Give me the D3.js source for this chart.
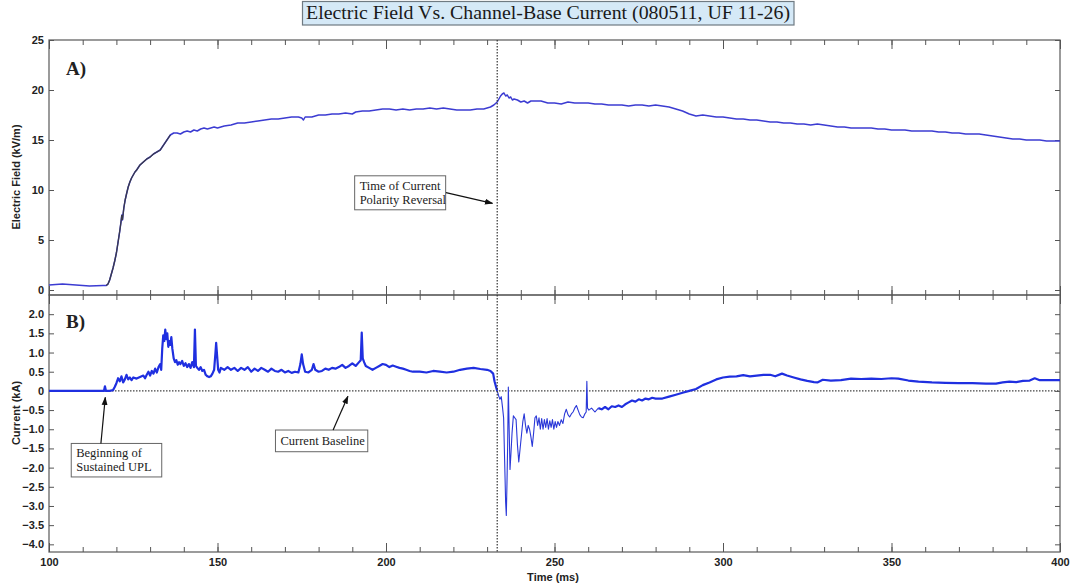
<!DOCTYPE html>
<html>
<head>
<meta charset="utf-8">
<script src="https://cdn.jsdelivr.net/npm/d3@7"></script>
<style>
  html, body { margin: 0; padding: 0; background: #fff; }
  svg { display: block; }
  .tick text { font-family: "Liberation Sans", Arial, sans-serif; font-weight: bold; font-size: 11px; fill: #222; }
  .axis path { display: none; }
  .axis line { stroke: #555; stroke-width: 1; }
  .serif { font-family: "Liberation Serif", "Times New Roman", serif; }
</style>
</head>
<body>
<svg id="chart" width="1071" height="586"></svg>
<script>
// Electric field record, time (ms)
const fieldTime = [100,102,104,106,108,110,112,114,116,117,117.5,118,118.5,119,119.5,120,120.5,121,121.4,121.6,121.8,122.2,122.6,123,123.5,124,124.5,125,125.5,126,127,128,129,130,131,132,133,134,135,136,137,138,139,140,141,142,143,144,145,146,147,148,149,150,152,154,156,158,160,162,164,166,168,170,172,174,175,175.5,176,178,180,182,184,186,188,190,191,193,195,197,199,201,203,205,207,209,211,213,215,217,219,221,223,225,227,229,230,231,232,233,233.5,234,234.5,235,235.5,236,236.5,237,237.5,238,239,240,241,242,243,246,248,250,252,254,256,258,260,262,264,266,268,270,272,274,276,278,280,282,284,286,288,290,292,294,296,298,300,302,304,306,308,310,312,314,316,318,320,322,324,326,328,330,332,334,336,338,340,342,344,346,348,350,352,354,356,358,360,362,364,366,368,370,372,374,376,378,380,382,384,386,388,390,392,394,396,398,400];
// Electric field (kV/m)
const fieldValue = [0.5,0.55,0.6,0.55,0.5,0.45,0.4,0.42,0.45,0.45,0.6,1.0,1.6,2.2,2.9,3.7,4.8,5.9,6.9,7.5,7.0,8.2,9.0,9.6,10.3,10.8,11.2,11.5,11.8,12.0,12.5,12.8,13.1,13.3,13.6,13.8,14.0,14.5,15.0,15.5,15.7,15.7,15.6,15.8,15.9,15.8,16.0,15.9,16.1,16.2,16.1,16.2,16.3,16.2,16.4,16.5,16.7,16.7,16.8,16.9,17.0,17.1,17.1,17.2,17.3,17.3,17.2,17.0,17.3,17.3,17.5,17.5,17.6,17.6,17.7,17.6,17.8,17.9,17.9,18.0,18.1,18.1,18.0,18.1,18.0,18.1,18.1,18.2,18.1,18.2,18.1,18.0,18.0,18.0,18.1,18.1,18.2,18.3,18.5,18.8,19.1,19.4,19.6,19.7,19.4,19.5,19.2,19.3,19.0,19.1,19.0,18.8,18.9,18.7,18.9,18.9,18.7,18.7,18.6,18.8,18.7,18.7,18.7,18.6,18.6,18.5,18.5,18.5,18.4,18.5,18.5,18.4,18.5,18.4,18.3,18.1,17.9,17.6,17.4,17.5,17.4,17.3,17.3,17.2,17.1,17.1,17.0,17.0,16.9,16.8,16.8,16.7,16.7,16.6,16.6,16.5,16.6,16.5,16.4,16.3,16.3,16.2,16.2,16.2,16.2,16.1,16.1,16.0,16.0,16.0,15.9,15.9,15.9,15.9,15.8,15.8,15.7,15.7,15.6,15.6,15.6,15.5,15.4,15.3,15.2,15.1,15.1,15.0,15.0,15.0,14.9,14.9,14.9];

// Channel-base current record, time (ms)
const currentTime = [100,105,110,115,116.3,116.6,116.9,118,119,119.5,120,120.5,121,121.5,122,122.5,123,123.5,124,124.5,125,126,127,128,128.5,129,129.5,130,130.5,131,131.5,132,132.5,133,133.3,133.6,133.9,134.2,134.5,134.8,135.1,135.4,135.7,136,136.3,136.6,137,137.4,137.8,138.2,138.6,139,139.5,140,140.5,141,141.5,142,142.5,143,143.3,143.6,144,144.5,145,145.5,146,146.5,147,147.5,148,148.5,149,149.4,149.6,149.9,150.2,150.6,151,152,153,154,155,156,157,158,159,160,161,162,163,164,165,166,167,168,169,170,171,172,173,174,174.6,175,175.4,176,177,178,178.5,179,180,181,182,183,184,185,186,187,188,189,190,191,192,192.5,192.8,193.1,193.5,194,195,196,197,198,199,200,201,202,203,204,205,206,207,208,210,212,214,216,218,220,222,224,226,228,230,231,231.8,232.2,232.6,233,233.4,233.8,234.2,234.6,234.9,235.2,235.5,235.7,235.9,236.1,236.3,236.5,236.8,237.1,237.4,237.8,238.2,238.6,239,239.4,239.8,240.2,240.6,241,241.4,241.8,242.2,242.6,243,243.4,243.8,244.2,244.6,245,245.4,245.8,246.2,246.6,247,247.4,247.8,248.2,248.6,249,249.4,249.8,250.2,250.6,251,251.5,252,252.5,253,253.5,254,254.5,255,255.5,256,256.5,257,257.5,258,258.5,259,259.4,259.6,259.8,260.2,261,262,263,264,265,266,267,268,269,270,271,272,273,274,275,276,277,278,279,280,282,284,286,288,290,292,294,296,298,300,302,304,306,308,310,312,314,315.5,317.5,319,321,323,325,327,328,329.6,332,335,338,341,344,347,350,352,355,358,362,366,370,374,378,381,383,385,387,389,391,392.5,394,397,400];
// Channel-base current (kA)
const currentValue = [0,0,0,0,0,0.12,0,0,0.02,0.1,0.2,0.33,0.25,0.38,0.22,0.3,0.42,0.3,0.35,0.28,0.35,0.32,0.36,0.4,0.33,0.42,0.5,0.4,0.52,0.45,0.58,0.48,0.62,0.7,0.55,1.1,1.45,1.3,1.6,1.35,1.5,1.15,1.3,1.2,1.4,1.1,0.85,0.75,0.8,0.68,0.75,0.7,0.78,0.65,0.72,0.62,0.7,0.6,0.75,0.62,1.6,0.65,0.6,0.55,0.62,0.52,0.55,0.42,0.38,0.36,0.38,0.45,0.55,1.0,1.25,0.9,0.55,0.48,0.6,0.55,0.62,0.55,0.6,0.52,0.6,0.55,0.62,0.5,0.58,0.52,0.6,0.55,0.5,0.58,0.52,0.5,0.55,0.48,0.52,0.47,0.5,0.48,0.7,0.95,0.7,0.5,0.48,0.55,0.7,0.55,0.5,0.52,0.58,0.55,0.6,0.58,0.62,0.68,0.6,0.65,0.72,0.65,0.75,0.8,1.52,0.85,0.75,0.65,0.6,0.55,0.6,0.65,0.7,0.68,0.62,0.66,0.63,0.6,0.58,0.55,0.52,0.5,0.5,0.48,0.52,0.5,0.48,0.5,0.55,0.58,0.6,0.57,0.55,0.52,0.45,0.25,0.12,0.0,-0.12,-0.22,-0.15,-0.45,-0.7,-1.8,-2.9,-3.25,-2.4,-1.4,0.1,-0.8,-2.05,-1.6,-1.1,-0.65,-0.7,-0.75,-1.4,-1.85,-1.5,-1.15,-0.8,-0.6,-0.9,-1.1,-0.9,-1.0,-1.2,-1.45,-1.1,-0.7,-0.65,-0.9,-0.7,-1.0,-0.72,-1.0,-0.75,-0.95,-0.72,-1.0,-0.78,-0.95,-0.75,-1.0,-0.8,-0.95,-0.8,-0.9,-0.75,-0.85,-0.6,-0.48,-0.62,-0.68,-0.6,-0.55,-0.45,-0.38,-0.5,-0.62,-0.68,-0.7,-0.6,-0.55,0.25,-0.45,-0.5,-0.45,-0.55,-0.45,-0.48,-0.42,-0.48,-0.4,-0.42,-0.38,-0.42,-0.35,-0.3,-0.25,-0.28,-0.22,-0.25,-0.2,-0.22,-0.18,-0.2,-0.2,-0.15,-0.1,-0.05,0.0,0.05,0.15,0.22,0.3,0.35,0.37,0.38,0.41,0.38,0.4,0.42,0.42,0.38,0.45,0.4,0.35,0.3,0.26,0.23,0.22,0.29,0.27,0.28,0.32,0.31,0.32,0.31,0.33,0.32,0.27,0.24,0.22,0.21,0.2,0.2,0.19,0.19,0.22,0.24,0.23,0.26,0.27,0.33,0.28,0.28,0.28];

// Tick values
const timeMajorTicks = [100,150,200,250,300,350,400];
const timeMinorTicks = d3.range(100, 401, 10);
const fieldTicks = [0,5,10,15,20,25];
const currentTicks = [2.0,1.5,1.0,0.5,0,-0.5,-1.0,-1.5,-2.0,-2.5,-3.0,-3.5,-4.0];

// Event markers
const reversalTime = 233;
const upwardLeaderOnset = 116.7;

const titleText = "Electric Field Vs. Channel-Base Current (080511, UF 11-26)";

const svg = d3.select("#chart");

const left = 49, right = 1060;
const topA = 40, bottomA = 295, topB = 295, bottomB = 552;

const x = d3.scaleLinear().domain([100, 400]).range([left, right]);
const yE = d3.scaleLinear().domain([-0.5, 25]).range([bottomA, topA]);
const yI = d3.scaleLinear().domain([-4.2, 2.5]).range([bottomB, topB]);

// Title box
svg.append("rect")
  .attr("x", 302.5).attr("y", 1.5).attr("width", 491.5).attr("height", 23.5)
  .attr("fill", "#d5e9f7").attr("stroke", "#6f7a82").attr("stroke-width", 1.2);
svg.append("text").attr("class", "serif")
  .attr("x", 548).attr("y", 19).attr("text-anchor", "middle")
  .attr("font-size", 19).attr("fill", "#1a1a1a")
  .attr("textLength", 484).attr("lengthAdjust", "spacingAndGlyphs")
  .text(titleText);

// Panel frames
[[topA, bottomA], [topB, bottomB]].forEach(([t, b]) => {
  svg.append("rect").attr("x", left).attr("y", t).attr("width", right - left).attr("height", b - t)
    .attr("fill", "none").attr("stroke", "#666").attr("stroke-width", 1.3);
});

// Time ticks on every panel edge, pointing inward
function timeTicks(y, dir) {
  const make = () => dir > 0 ? d3.axisBottom(x) : d3.axisTop(x);
  svg.append("g").attr("class", "axis").attr("transform", `translate(0,${y})`)
    .call(make().tickValues(timeMinorTicks).tickSize(-5).tickFormat(""));
  svg.append("g").attr("class", "axis").attr("transform", `translate(0,${y})`)
    .call(make().tickValues(timeMajorTicks).tickSize(-9).tickFormat(""));
}
timeTicks(topA, -1);
timeTicks(bottomA, 1);
timeTicks(topB, -1);
timeTicks(bottomB, 1);

// Time labels
svg.append("g").attr("class", "axis").attr("transform", `translate(0,${bottomB})`)
  .call(d3.axisBottom(x).tickValues(timeMajorTicks).tickSize(0).tickPadding(6).tickFormat(d3.format("d")));

// Field axis
svg.append("g").attr("class", "axis").attr("transform", `translate(${left},0)`)
  .call(d3.axisLeft(yE).tickValues(fieldTicks).tickSizeInner(-5).tickSizeOuter(0).tickPadding(5).tickFormat(d3.format("d")));
svg.append("g").attr("class", "axis").attr("transform", `translate(${right},0)`)
  .call(d3.axisRight(yE).tickValues(fieldTicks).tickSizeInner(-5).tickSizeOuter(0).tickFormat(""));

// Current axis
const curFmt = d => d === 0 ? "0" : d3.format(".1f")(d);
svg.append("g").attr("class", "axis").attr("transform", `translate(${left},0)`)
  .call(d3.axisLeft(yI).tickValues(currentTicks).tickSizeInner(-5).tickSizeOuter(0).tickPadding(5).tickFormat(curFmt));
svg.append("g").attr("class", "axis").attr("transform", `translate(${right},0)`)
  .call(d3.axisRight(yI).tickValues(currentTicks).tickSizeInner(-5).tickSizeOuter(0).tickFormat(""));

// Axis titles
const sansBold = "'Liberation Sans', Arial, sans-serif";
svg.append("text").attr("transform", "translate(20,177) rotate(-90)")
  .attr("text-anchor", "middle").attr("font-family", sansBold).attr("font-weight", "bold")
  .attr("font-size", 11).attr("fill", "#222").text("Electric Field (kV/m)");
svg.append("text").attr("transform", "translate(20,413) rotate(-90)")
  .attr("text-anchor", "middle").attr("font-family", sansBold).attr("font-weight", "bold")
  .attr("font-size", 11).attr("fill", "#222").text("Current (kA)");
svg.append("text").attr("x", 553).attr("y", 581)
  .attr("text-anchor", "middle").attr("font-family", sansBold).attr("font-weight", "bold")
  .attr("font-size", 11).attr("fill", "#222").text("Time (ms)");

// Panel tags
svg.append("text").attr("class", "serif").attr("x", 66).attr("y", 75)
  .attr("font-size", 19).attr("font-weight", "bold").attr("fill", "#222").text("A)");
svg.append("text").attr("class", "serif").attr("x", 66).attr("y", 328)
  .attr("font-size", 19).attr("font-weight", "bold").attr("fill", "#222").text("B)");

// Zero-current baseline
svg.append("line")
  .attr("x1", x(100)).attr("x2", x(400)).attr("y1", yI(0)).attr("y2", yI(0))
  .attr("stroke", "#444").attr("stroke-width", 1.1).attr("stroke-dasharray", "1.5,1.5");

// Field trace (the steep rise is drawn in a dark tone)
const field = fieldTime.map((t, i) => ({ t, v: fieldValue[i] }));
const lineE = d3.line().x(d => x(d.t)).y(d => yE(d.v));
svg.append("path").datum(field).attr("d", lineE)
  .attr("fill", "none").attr("stroke", "#3c3cd2").attr("stroke-width", 1.5).attr("stroke-linejoin", "round");
svg.append("path").datum(field.filter(d => d.t >= 117 && d.t <= 136))
  .attr("d", lineE).attr("fill", "none").attr("stroke", "#3a3a4a").attr("stroke-width", 1.3);

// Current trace: smooth parts thick, oscillatory part thin
const current = currentTime.map((t, i) => ({ t, v: currentValue[i] }));
const lineI = d3.line().x(d => x(d.t)).y(d => yI(d.v));
svg.append("path").datum(current.filter(d => d.t <= 233))
  .attr("d", lineI).attr("fill", "none").attr("stroke", "#1f2fe0").attr("stroke-width", 2.2).attr("stroke-linejoin", "round");
svg.append("path").datum(current.filter(d => d.t >= 233 && d.t <= 263))
  .attr("d", lineI).attr("fill", "none").attr("stroke", "#2a38d8").attr("stroke-width", 1.1).attr("stroke-linejoin", "round");
svg.append("path").datum(current.filter(d => d.t >= 263))
  .attr("d", lineI).attr("fill", "none").attr("stroke", "#1f2fe0").attr("stroke-width", 2.2).attr("stroke-linejoin", "round");

// Polarity reversal marker across both panels
svg.append("line")
  .attr("x1", x(reversalTime)).attr("x2", x(reversalTime)).attr("y1", topA).attr("y2", bottomB)
  .attr("stroke", "#333").attr("stroke-width", 1.2).attr("stroke-dasharray", "1.5,1.5");

// Annotations
svg.append("defs").append("marker").attr("id", "head")
  .attr("viewBox", "0 0 10 10").attr("refX", 9).attr("refY", 5)
  .attr("markerWidth", 7).attr("markerHeight", 7).attr("orient", "auto")
  .append("path").attr("d", "M0,1.5 L10,5 L0,8.5 Z").attr("fill", "#111");

const notes = [
  { lines: ["Time of Current", "Polarity Reversal"], y: yE,
    box: [190.7, 11.42], w: 91, h: 34, tail: [217.8, 9.73], tip: [231.6, 8.67] },
  { lines: ["Beginning of", "Sustained UPL"], y: yI,
    box: [106.6, -1.37], w: 90.5, h: 33.5, tail: [115.4, -1.37], tip: [upwardLeaderOnset, -0.17] },
  { lines: ["Current Baseline"], y: yI,
    box: [167.2, -1.02], w: 92.3, h: 21.7, tail: [184.3, -1.02], tip: [188.7, -0.14] }
];
notes.forEach(n => {
  const bx = x(n.box[0]), by = n.y(n.box[1]);
  svg.append("rect").attr("x", bx).attr("y", by).attr("width", n.w).attr("height", n.h)
    .attr("fill", "#fff").attr("stroke", "#666").attr("stroke-width", 1);
  n.lines.forEach((s, i) => {
    svg.append("text").attr("class", "serif")
      .attr("x", bx + 5).attr("y", by + (n.lines.length === 1 ? 15 : 14 + i * 14))
      .attr("font-size", 12.5).attr("fill", "#222").text(s);
  });
  svg.append("line")
    .attr("x1", x(n.tail[0])).attr("y1", n.y(n.tail[1]))
    .attr("x2", x(n.tip[0])).attr("y2", n.y(n.tip[1]))
    .attr("stroke", "#111").attr("stroke-width", 1.2).attr("marker-end", "url(#head)");
});
</script>
</body>
</html>
